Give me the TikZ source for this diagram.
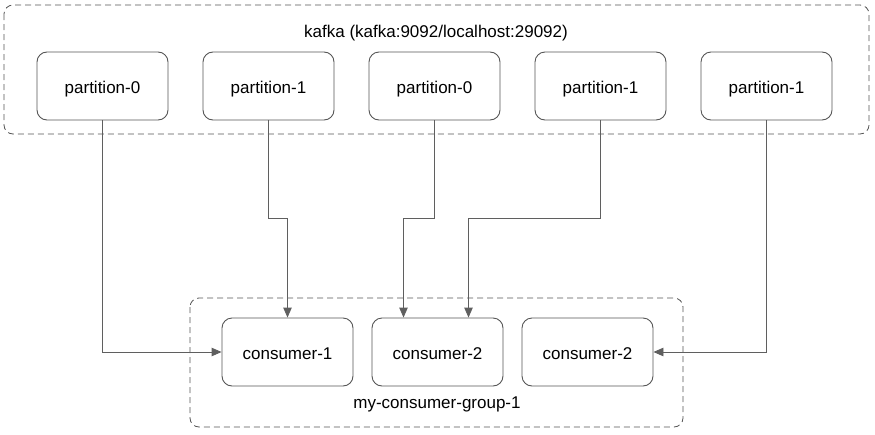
\documentclass[tikz,border=0pt]{standalone}
\usepackage{fontspec}
\setmainfont{Liberation Sans}
\usetikzlibrary{arrows.meta}
\definecolor{bord}{HTML}{555555}
\definecolor{trait}{HTML}{5F5F5F}
\tikzset{
    boite/.style={draw=bord, line width=0.9pt, rounded corners=10pt, minimum width=131pt, minimum height=68pt, font=\fontsize{17}{20}\selectfont, text height=14pt, text depth=0pt},
    groupe/.style={draw=bord, line width=0.8pt, dash pattern=on 6pt off 4pt, rounded corners=9pt},
    fleche/.style={draw=trait, line width=0.9pt, -{Triangle[length=10pt,width=8.5pt]}},
    titre/.style={font=\fontsize{17}{20}\selectfont, text height=14pt, text depth=0pt}
}
\begin{document}
\begin{tikzpicture}[x=1pt,y=-1pt]
    \useasboundingbox (0,0) rectangle (875,434);

    % Le cluster kafka
    \draw[groupe] (4,5) rectangle (869,134);
    \node[titre] (kafka) at (436,30) {kafka (kafka:9092/localhost:29092)};
    \foreach \i/\n in {0/0,1/1,2/0,3/1,4/1} {
        \node[boite] (p\i) at (102.5+166*\i,86) {partition-\n};
    }

    % Le groupe de consommateurs
    \draw[groupe] (190,298) rectangle (683,427);
    \node[titre] (groupe) at (437,401) {my-consumer-group-1};
    \foreach \i/\n in {1/1,2/2,3/2} {
        \node[boite] (c\i) at (137.5+150*\i,352) {consumer-\n};
    }

    % Les liens partition -> consommateur
    \draw[fleche] (p0.south) |- (c1.west);
    \draw[fleche] (p1.south) -- ++(0,98) -| (c1.north);
    \draw[fleche] (p2.south) -- ++(0,98) -| ([xshift=-34pt]c2.north);
    \draw[fleche] (p3.south) -- ++(0,98) -| ([xshift=31pt]c2.north);
    \draw[fleche] (p4.south) |- (c3.east);
\end{tikzpicture}
\end{document}
